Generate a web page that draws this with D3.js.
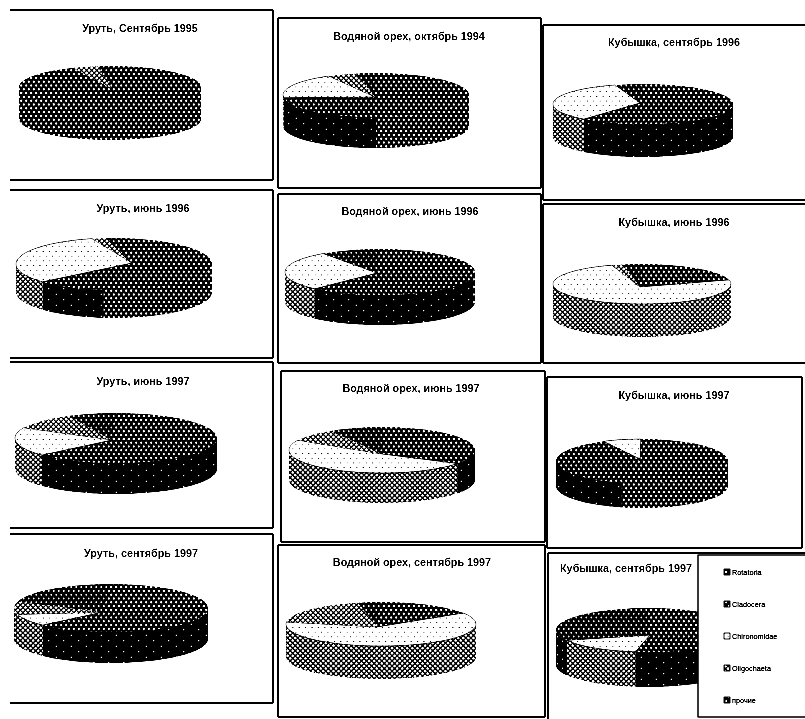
<!DOCTYPE html>
<html>
<head>
<meta charset="utf-8">
<script src="https://cdn.jsdelivr.net/npm/d3@7"></script>
<style>
  html, body { margin: 0; padding: 0; background: #fff; }
  text { font-family: "Liberation Sans", Arial, sans-serif; fill: #000; }
</style>
</head>
<body>
<svg id="viz" width="805" height="719"></svg>
<script>
// DATA, one value per panel (percent)
const titles = [
  'Уруть, Сентябрь 1995', 'Водяной орех, октябрь 1994', 'Кубышка, сентябрь 1996',
  'Уруть, июнь 1996', 'Водяной орех, июнь 1996', 'Кубышка, июнь 1996',
  'Уруть, июнь 1997', 'Водяной орех, июнь 1997', 'Кубышка, июнь 1997',
  'Уруть, сентябрь 1997', 'Водяной орех, сентябрь 1997', 'Кубышка, сентябрь 1997'
];
const species = ['Rotatoria', 'Cladocera', 'Chironomidae', 'Oligochaeta', 'прочие'];

const rotatoria = [93.3, 50, 22, 51.7, 28, 12, 24, 23.6, 53.8, 24, 12, 27.8];
const cladocera = [0, 23, 39.4, 11.3, 34, 9.7, 39, 11.4, 38.8, 38.4, 4.7, 24.4];
const chironomidae = [0, 18.5, 33.6, 33.4, 27.8, 72.8, 18.6, 47, 7.2, 8.2, 59.7, 15];
const oligochaeta = [4.5, 5, 0, 2.4, 0, 1.9, 10.5, 8.6, 0, 8.6, 19.7, 0];
const prochie = [2.2, 3.5, 5, 1.2, 10.2, 3.6, 7.8, 9.4, 0.2, 20.8, 3.9, 32.8];
const seriesValues = [rotatoria, cladocera, chironomidae, oligochaeta, prochie];

// LAYOUT, same panel order as titles: title x/baseline, pie centre and radii, rim depth
const titleX = [140, 409, 674, 143, 410, 674, 143, 411, 674, 141, 412, 626];
const titleY = [32, 40, 46, 212, 215, 226, 385, 392, 399, 557, 566, 572];
const pieCx = [110, 376, 643, 114, 380, 642, 116, 382, 642, 111, 381, 648];
const pieCy = [87, 95, 104, 264, 272, 284, 438, 450, 461, 608, 624, 630];
const pieRx = [91, 93, 90, 98, 95, 89, 101, 93, 86, 97, 95, 92];
const pieRy = [21, 22, 20, 26, 23, 20, 25, 23, 22, 24, 22, 22];
const pieDepth = [32, 31, 33, 28, 30, 33, 31, 30, 25, 31, 33, 35];
// the scan is skewed, the point where the wedges meet is not always the ellipse centre
const apexX = [111, 375, 640, 132, 377, 640, 112, 382, 640, 103, 377, 650];
const apexY = [88, 97, 103, 263, 273, 287, 440, 454, 459, 612, 627, 635];

// frames: x0, y0, x1, y1, which sides are visible
const frames = [
  [10, 10, 273, 180, 'trb'], [278, 18, 541, 188, 'ltrb'], [543, 25, 805, 200, 'ltb'],
  [10, 190, 273, 358, 'trb'], [278, 194, 541, 363, 'ltrb'], [543, 204, 805, 363, 'ltb'],
  [10, 362, 273, 528, 'trb'], [281, 371, 545, 542, 'ltrb'], [547, 377, 802, 548, 'ltrb'],
  [10, 534, 273, 703, 'trb'], [278, 545, 545, 717, 'ltrb'], [548, 553, 805, 719, 'lt']
];

const width = 805;
const height = 719;
const svg = d3.select('#viz');
const defs = svg.append('defs');

// blur plus a hard contrast curve, gives the photocopied look
const scan = defs.append('filter').attr('id', 'scan')
  .attr('x', 0).attr('y', 0).attr('width', width).attr('height', height)
  .attr('filterUnits', 'userSpaceOnUse')
  .attr('color-interpolation-filters', 'sRGB');
scan.append('feGaussianBlur').attr('stdDeviation', 0.6);
const curve = scan.append('feComponentTransfer');
['feFuncR', 'feFuncG', 'feFuncB'].forEach((fn) => {
  curve.append(fn).attr('type', 'linear').attr('slope', 2.2).attr('intercept', -0.55);
});

// PATTERNS

const dotPattern = (id, w, h, bg, fg, r) => {
  const p = defs.append('pattern').attr('id', id)
    .attr('patternUnits', 'userSpaceOnUse').attr('width', w).attr('height', h);
  p.append('rect').attr('width', w).attr('height', h).attr('fill', bg);
  [[w / 4, h / 4], [(3 * w) / 4, (3 * h) / 4]].forEach((c) => {
    p.append('circle').attr('cx', c[0]).attr('cy', c[1]).attr('r', r).attr('fill', fg);
  });
};
const hatchPattern = (id, size, hole) => {
  const p = defs.append('pattern').attr('id', id)
    .attr('patternUnits', 'userSpaceOnUse').attr('width', size).attr('height', size)
    .attr('patternTransform', 'rotate(45)');
  p.append('rect').attr('width', size).attr('height', size).attr('fill', '#000');
  p.append('rect').attr('width', hole).attr('height', hole).attr('fill', '#fff');
};

dotPattern('rotTop', 5, 7.6, '#000', '#fff', 1.2);
dotPattern('cladTop', 5, 7.6, '#000', '#fff', 1.1);
dotPattern('chirTop', 6.4, 9.4, '#fff', '#000', 0.75);
hatchPattern('oligTop', 3.6, 2.4);
dotPattern('otherTop', 5, 7.6, '#000', '#fff', 1);
dotPattern('rotSide', 5, 7.6, '#000', '#fff', 1.2);
dotPattern('cladSide', 15, 11, '#000', '#fff', 0.75);
hatchPattern('chirSide', 3.6, 2.3);
hatchPattern('oligSide', 3.6, 2.1);
dotPattern('otherSide', 10, 9, '#000', '#fff', 0.8);

const topFill = ['rotTop', 'cladTop', 'chirTop', 'oligTop', 'otherTop'];
const sideFill = ['rotSide', 'cladSide', 'chirSide', 'oligSide', 'otherSide'];

const root = svg.append('g').attr('filter', 'url(#scan)');
root.append('rect').attr('width', width).attr('height', height).attr('fill', '#fff');

// FRAMES

const framePath = (f) => {
  const p = d3.path();
  const [x0, y0, x1, y1, sides] = f;
  if (sides.includes('l')) { p.moveTo(x0, y0); p.lineTo(x0, y1); }
  if (sides.includes('t')) { p.moveTo(x0, y0); p.lineTo(x1, y0); }
  if (sides.includes('r')) { p.moveTo(x1, y0); p.lineTo(x1, y1); }
  if (sides.includes('b')) { p.moveTo(x0, y1); p.lineTo(x1, y1); }
  return p.toString();
};

root.selectAll('path.frame')
  .data(frames)
  .enter()
  .append('path')
  .attr('class', 'frame')
  .attr('d', framePath)
  .attr('fill', 'none')
  .attr('stroke', '#000')
  .attr('stroke-width', 1.5);

// PIES

const pie = d3.pie().sort(null).value((d) => d.value);
const line = d3.line();

const drawPanel = (title, i) => {
  const g = root.append('g').attr('class', 'panel');
  const cx = pieCx[i];
  const cy = pieCy[i];
  const rx = pieRx[i];
  const ry = pieRy[i];
  const depth = pieDepth[i];

  const rim = (t, z) => [cx + rx * Math.sin(t), cy - ry * Math.cos(t) + z];
  const arcPoints = (a0, a1, z) => {
    const steps = Math.max(2, Math.ceil((a1 - a0) / 0.03));
    return d3.range(steps + 1).map((k) => rim(a0 + ((a1 - a0) * k) / steps, z));
  };

  const slices = pie(species.map((name, s) => ({ s, value: seriesValues[s][i] })))
    .filter((d) => d.value > 0);

  // only the front half of the rim can be seen
  const frontStart = Math.PI / 2;
  const frontEnd = (3 * Math.PI) / 2;
  slices.forEach((d) => {
    const a0 = Math.max(d.startAngle, frontStart);
    const a1 = Math.min(d.endAngle, frontEnd);
    if (a1 <= a0) return;
    const pts = arcPoints(a0, a1, 0).concat(arcPoints(a0, a1, depth).reverse());
    g.append('path')
      .attr('d', line(pts) + 'Z')
      .attr('fill', `url(#${sideFill[d.data.s]})`);
  });

  slices.forEach((d) => {
    const pts = [[apexX[i], apexY[i]]].concat(arcPoints(d.startAngle, d.endAngle, 0));
    g.append('path')
      .attr('d', line(pts) + 'Z')
      .attr('fill', `url(#${topFill[d.data.s]})`)
      .attr('stroke', d.data.s === 2 ? '#000' : 'none')
      .attr('stroke-width', 0.8);
  });

  g.append('text')
    .attr('x', titleX[i])
    .attr('y', titleY[i])
    .attr('text-anchor', 'middle')
    .style('font-size', '10.8px')
    .style('font-weight', 'bold')
    .text(title);
};

titles.forEach((t, i) => {
  drawPanel(t, i);
});

// LEGEND

const legendY = d3.scalePoint().domain(species).range([572, 700]);
const legend = root.append('g');
legend.append('rect')
  .attr('x', 698).attr('y', 555).attr('width', 110).attr('height', 162)
  .attr('fill', '#fff').attr('stroke', '#000').attr('stroke-width', 1.3);

species.forEach((name, s) => {
  legend.append('rect')
    .attr('x', 724).attr('y', legendY(name) - 3)
    .attr('width', 6).attr('height', 6)
    .attr('fill', `url(#${topFill[s]})`)
    .attr('stroke', '#000').attr('stroke-width', 1);
  legend.append('text')
    .attr('x', 732).attr('y', legendY(name) + 2.5)
    .style('font-size', '7.3px')
    .style('stroke', '#000')
    .style('stroke-width', 0.25)
    .text(name);
});
</script>
</body>
</html>
